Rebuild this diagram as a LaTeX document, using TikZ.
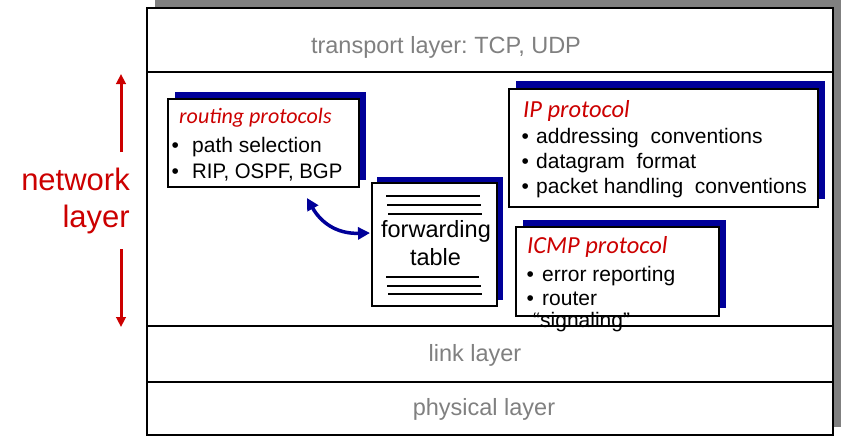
\documentclass[tikz,border=0pt]{standalone}
\usepackage{fontspec}
\usepackage{graphicx}
\setmainfont{Liberation Sans}
\newfontfamily\headfont{Carlito}
\usetikzlibrary{arrows.meta}
\definecolor{netred}{RGB}{204,0,0}
\definecolor{shadownavy}{RGB}{0,0,153}
\definecolor{layergray}{RGB}{128,128,128}
\definecolor{framegray}{RGB}{128,128,128}
\newcommand\mybul[1]{\makebox[#1][l]{\textbullet}}
\frenchspacing
\begin{document}
\begin{tikzpicture}[x=1pt,y=-1pt,
  layertext/.style={text=layergray, font=\fontsize{23.5}{28}\selectfont, inner sep=0pt, anchor=base},
  boxtext/.style={font=\fontsize{21}{25}\selectfont, inner sep=0pt, anchor=base west},
  headtext/.style={text=netred, inner sep=0pt, anchor=base west},
  protobox/.style={draw=black, line width=2.4pt, fill=white, inner sep=0pt},
  boxshadow/.style={fill=shadownavy},
  sepline/.style={line width=2pt},
  tabline/.style={line width=2pt},
  redarrow/.style={netred, line width=3pt, -{Triangle[width=9.5pt,length=10pt]}},
  bluearrow/.style={shadownavy, line width=3.5pt, {Triangle[width=12pt,length=12pt]}-{Triangle[width=12pt,length=12pt]}},
  nettext/.style={text=netred, font=\fontsize{31}{36}\selectfont, inner sep=0pt, anchor=base east},
]
\useasboundingbox (0,0) rectangle (841,437);
% outer frame with grey shadow
\fill[framegray] (155,-3) rectangle (844,427);
\draw[line width=2.5pt, fill=white] (147,8) rectangle (833,435);
% layer separators
\draw[sepline] (147,72) -- (833,72);
\draw[sepline] (147,326) -- (833,326);
\draw[sepline] (147,382) -- (833,382);
% layer texts
\node[layertext] (tl) at (446,53) {transport layer: TCP, UDP};
\node[layertext] (ll) at (475,361) {link layer};
\node[layertext] (pl) at (484,415) {physical layer};
% network layer label
\node[nettext] (nw) at (130,190) {network};
\node[nettext] (ly) at (130,227) {layer};
\coordinate (upS) at (121,152);
\coordinate (upE) at (121,74);
\coordinate (dnS) at (121,249);
\coordinate (dnE) at (121,327);
\draw[redarrow] (upS) -- (upE);
\draw[redarrow] (dnS) -- (dnE);
% routing protocols box
\fill[boxshadow] (175,92) rectangle (366,180);
\node[protobox, minimum width=191pt, minimum height=88pt] (rp) at (263.5,143) {};
\node[headtext, font=\headfont\itshape\fontsize{22}{26}\selectfont] (rph) at (179,123) {routing protocols};
\node[boxtext] (rp1) at (171.5,152) {\mybul{20.5pt}path selection};
\node[boxtext] (rp2) at (171.5,178) {\mybul{20.5pt}\scalebox{0.97}[1]{RIP, OSPF, BGP}};
% forwarding table
\fill[boxshadow] (377,177) rectangle (503,300);
\node[protobox, minimum width=125pt, minimum height=123pt] (fw) at (434.5,244.5) {};
\draw[tabline] (386,196) -- (480,196);
\draw[tabline] (387,205) -- (481,205);
\draw[tabline] (388,214) -- (482,214);
\draw[tabline] (386,277) -- (479,277);
\draw[tabline] (387,286) -- (481,286);
\draw[tabline] (388,294) -- (482,294);
\node[font=\fontsize{23.5}{28}\selectfont, inner sep=0pt, anchor=base] (fw1) at (436,237) {forwarding};
\node[font=\fontsize{23.5}{28}\selectfont, inner sep=0pt, anchor=base] (fw2) at (435.5,265) {table};
% IP protocol box
\fill[boxshadow] (516,81) rectangle (825,199);
\node[protobox, minimum width=309pt, minimum height=118pt] (ip) at (663.5,148) {};
\node[headtext, font=\headfont\itshape\fontsize{24.5}{29}\selectfont] (iph) at (523,117) {IP protocol};
\node[boxtext] (ip1) at (521.5,143) {\mybul{14.5pt}addressing\ \ conventions};
\node[boxtext] (ip2) at (521.5,168) {\mybul{14.5pt}datagram\ \ format};
\node[boxtext] (ip3) at (521.5,193) {\mybul{14.5pt}packet handling\ \ conventions};
% ICMP protocol box
\fill[boxshadow] (523,220) rectangle (726,308);
\node[protobox, minimum width=203pt, minimum height=89pt] (icmp) at (617.5,271.5) {};
\node[headtext, font=\headfont\itshape\fontsize{24.5}{29}\selectfont] (icmph) at (527,253) {ICMP protocol};
\node[boxtext] (ic1) at (526.5,281) {\mybul{15.5pt}error reporting};
\node[boxtext] (ic2) at (526.5,305) {\mybul{15.5pt}router};
\node[boxtext] (ic3) at (533,327) {“signaling”};
% arrow between routing protocols and forwarding table
\coordinate (ba) at (307,198);
\coordinate (bb) at (370,233);
\draw[bluearrow] (ba) .. controls (320,221) and (335,234) .. (bb);
\end{tikzpicture}
\end{document}
